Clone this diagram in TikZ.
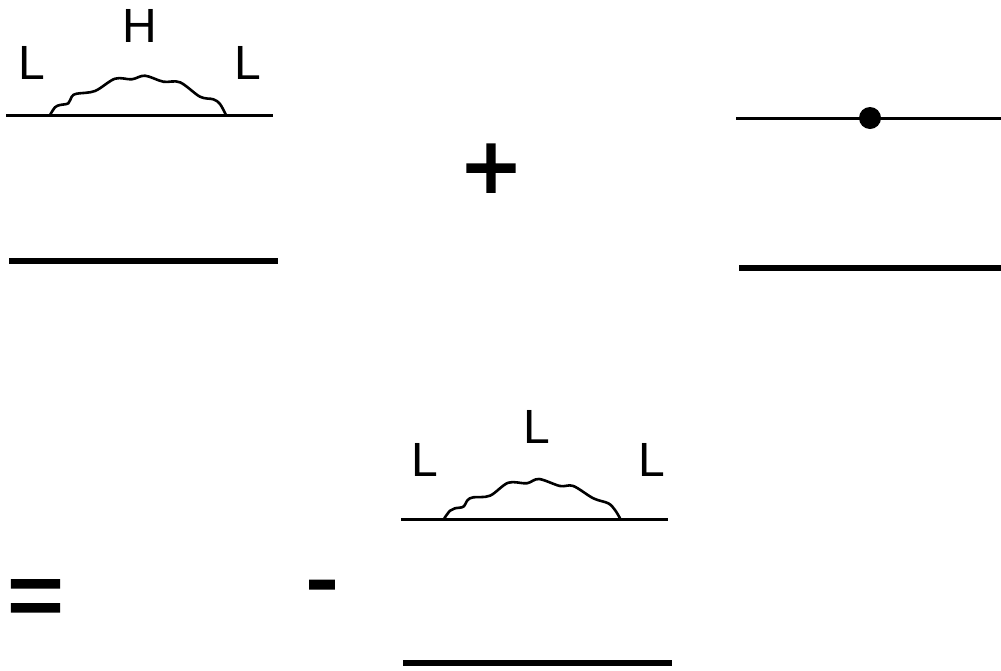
\documentclass[tikz,border=0pt]{standalone}
\usepackage{fontspec}
\setmainfont{Liberation Sans}
\newfontfamily\opfont[FakeBold=2.6]{Liberation Sans}
\tikzset{
  thinline/.style={line width=3pt},
  thickline/.style={line width=6pt},
  wiggle/.style={line width=2.6pt,smooth,tension=0.55,line cap=round},
  lbl/.style={font=\fontsize{48}{48}\selectfont,inner sep=0pt,anchor=base,text=black},
  opsign/.style={font=\opfont\fontsize{96}{96}\selectfont,inner sep=0pt,anchor=base,text=black},
}
\begin{document}
\begin{tikzpicture}[x=1pt,y=-1pt]
\useasboundingbox (0,0) rectangle (1001,670);
% top-left diagram
\coordinate (a1) at (6,115); \coordinate (a2) at (273,115);
\coordinate (b1) at (9,261); \coordinate (b2) at (278,261);
\draw[thinline] (a1) -- (a2);
\draw[thickline] (b1) -- (b2);
\draw[wiggle] plot coordinates {(50,115) (55,107.3) (60,105) (68.3,103.3) (71.7,96.7) (76.7,93.7) (95,91) (115,78.7) (131.7,79.3) (145,75.7) (163.3,81.7) (180,82.3) (200,96.7) (213.3,99.3) (220,104) (226,115)};
\node[lbl] (hl) at (32,79) {L};
\node[lbl] (hh) at (139.5,42) {H};
\node[lbl] (hr) at (248,79) {L};
% plus
\node[opsign] (plus) at (491,200) {+};
% right diagram
\coordinate (c1) at (736,118); \coordinate (c2) at (1001,118);
\coordinate (d1) at (739,268); \coordinate (d2) at (1001,268);
\draw[thinline] (c1) -- (c2);
\draw[thickline] (d1) -- (d2);
\node[circle,fill=black,minimum size=22pt,inner sep=0pt] (dot) at (870,118) {};
% equals and minus
\node[opsign] (eq) at (35.5,627.5) {=};
\node[opsign] (minus) at (322,610) {-};
% bottom diagram
\coordinate (e1) at (401,519); \coordinate (e2) at (668,519);
\coordinate (f1) at (403,663); \coordinate (f2) at (672,663);
\draw[thinline] (e1) -- (e2);
\draw[thickline] (f1) -- (f2);
\draw[wiggle] plot coordinates {(444.3,518.3) (450,510.7) (455,508.3) (463.3,506.7) (467.7,500) (473.3,497.3) (490,495.7) (508.3,482.7) (526.7,483.3) (539,479) (560,486) (573.3,486) (593.3,498.3) (608.3,503.3) (615,510) (620,518.3)};
\node[lbl] (ll) at (424.5,476) {L};
\node[lbl] (lm) at (537,443) {L};
\node[lbl] (lr) at (651.5,476) {L};
\end{tikzpicture}
\end{document}
